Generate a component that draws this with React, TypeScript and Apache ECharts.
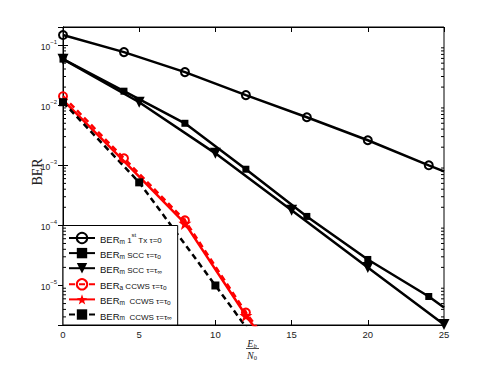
import React, { useEffect, useRef } from "react";
import * as echarts from "echarts";

// ---- data ----
const xMin = 0;
const xMax = 25;
const yMin = 2.2e-6;
const yMax = 0.2;

const txX = [0, 4, 8, 12, 16, 20, 24, 25];
const txY = [0.147, 0.0764, 0.0355, 0.0147, 0.0063, 0.00261, 0.001, 0.00079];
const txMark = [1, 1, 1, 1, 1, 1, 1, 0];

const sccOX = [0, 4, 8, 12, 16, 20, 24, 25];
const sccOY = [0.0584, 0.0171, 0.005, 0.00086, 0.000141, 0.0000271, 0.00000656, 0.0000043];
const sccOMark = [1, 1, 1, 1, 1, 1, 1, 0];

const sccInfX = [0, 5, 10, 15, 20, 25];
const sccInfY = [0.0584, 0.0112, 0.00158, 0.000178, 0.00002, 0.00000224];
const sccInfMark = [1, 1, 1, 1, 1, 1];

const ccwsAX = [0, 4, 8, 12, 16];
const ccwsAY = [0.0141, 0.00131, 0.000121, 0.00000355, 0.00000015];
const ccwsAMark = [1, 1, 1, 1, 0];

const ccwsMX = [0, 4, 8, 12, 16];
const ccwsMY = [0.0121, 0.00117, 0.000108, 0.00000316, 0.000000135];
const ccwsMMark = [0, 0, 1, 1, 0];

const ccwsInfX = [0, 5, 10, 15];
const ccwsInfY = [0.0112, 0.00052, 0.00001, 0.00000019];
const ccwsInfMark = [1, 1, 1, 0];

const xTickInterval = 5;
const minorMultipliers = [2, 3, 4, 5, 6, 7, 8, 9];
const decades = [-6, -5, -4, -3, -2, -1];

const names = [
  "BERm 1st Tx τ=0",
  "BERm SCC τ=τo",
  "BERm SCC τ=τ∞",
  "BERa CCWS τ=τo",
  "BERm CCWS τ=τo",
  "BERm CCWS τ=τ∞",
];
const richNames: Record<string, string> = {
  [names[0]]: "{n|BER}{s|m}{t| 1}{p|st}{t| Tx τ=0}",
  [names[1]]: "{n|BER}{s|m}{t| SCC τ=τ}{s|o}",
  [names[2]]: "{n|BER}{s|m}{t| SCC τ=τ}{s|∞}",
  [names[3]]: "{n|BER}{s|a}{t| CCWS τ=τ}{s|o}",
  [names[4]]: "{n|BER}{s|m}{t|  CCWS τ=τ}{s|o}",
  [names[5]]: "{n|BER}{s|m}{t|  CCWS τ=τ}{s|∞}",
};

const STAR =
  "path://M0,-10 L2.35,-3.24 L9.51,-3.09 L3.8,1.24 L5.88,8.09 L0,4 L-5.88,8.09 L-3.8,1.24 L-9.51,-3.09 L-2.35,-3.24 Z";

function pts(xs: number[], ys: number[], mark: number[]) {
  return xs.map((x, i) =>
    mark[i] ? { value: [x, ys[i]] } : { value: [x, ys[i]], symbol: "none" }
  );
}

const SANS = "Liberation Sans";
const SERIF = "Liberation Serif";

export default function App() {
  const ref = useRef<HTMLDivElement>(null);
  useEffect(() => {
    if (!ref.current) return;
    const chart = echarts.init(ref.current, null, { renderer: "svg" });

    const minorData: number[][] = [];
    decades.forEach((d) =>
      minorMultipliers.forEach((k) => {
        const v = k * Math.pow(10, d);
        if (v > yMin && v < yMax) minorData.push([xMin, v]);
      })
    );

    const gridLeft = 63,
      gridRight = 47,
      gridTop = 27,
      gridBottom = 41;

    const yLabelFmt = (v: number) => {
      const e = Math.log10(v);
      const r = Math.round(e);
      if (Math.abs(e - r) > 1e-6) return "";
      return `{b|10}{e|${r < 0 ? "−" + -r : r}}`;
    };

    const baseLine = (color: string, dashed: boolean) => ({
      color,
      width: 2.5,
      type: dashed ? [6, 4] : "solid",
    });

    const option: any = {
      animation: false,
      backgroundColor: "#fff",
      grid: {
        left: gridLeft,
        right: gridRight,
        top: gridTop,
        bottom: gridBottom,
        show: true,
        borderColor: "#000",
        borderWidth: 1,
        backgroundColor: "#fff",
      },
      xAxis: [
        {
          type: "value",
          min: xMin,
          max: xMax,
          interval: xTickInterval,
          position: "bottom",
          axisLine: { show: true, lineStyle: { color: "#000", width: 1 } },
          axisTick: { inside: true, length: 5, lineStyle: { color: "#000" } },
          axisLabel: { color: "#222", fontFamily: SANS, fontSize: 9.5, margin: 4 },
          splitLine: { show: false },
        },
        {
          type: "value",
          min: xMin,
          max: xMax,
          interval: xTickInterval,
          position: "top",
          axisLine: { show: true, lineStyle: { color: "#000", width: 1 } },
          axisTick: { inside: true, length: 5, lineStyle: { color: "#000" } },
          axisLabel: { show: false },
          splitLine: { show: false },
        },
      ],
      yAxis: [
        {
          type: "log",
          logBase: 10,
          min: yMin,
          max: yMax,
          position: "left",
          axisLine: { show: true, lineStyle: { color: "#000", width: 1 } },
          axisTick: { inside: true, length: 5, lineStyle: { color: "#000" } },
          axisLabel: {
            formatter: yLabelFmt,
            showMinLabel: false,
            showMaxLabel: false,
            margin: 6,
            rich: {
              b: { fontFamily: SANS, fontSize: 8.5, color: "#222", verticalAlign: "bottom", lineHeight: 12 },
              e: { fontFamily: SANS, fontSize: 6, color: "#222", verticalAlign: "top", lineHeight: 7 },
            },
          },
          splitLine: { show: false },
        },
        {
          type: "log",
          logBase: 10,
          min: yMin,
          max: yMax,
          position: "right",
          axisLine: { show: true, lineStyle: { color: "#000", width: 1 } },
          axisTick: { inside: true, length: 5, lineStyle: { color: "#000" } },
          axisLabel: { show: false },
          splitLine: { show: false },
        },
      ],
      legend: {
        data: names,
        orient: "vertical",
        left: gridLeft,
        bottom: gridBottom,
        backgroundColor: "#fff",
        borderColor: "#000",
        borderWidth: 1,
        borderRadius: 0,
        padding: [6, 6, 4, 5],
        itemGap: 3.4,
        itemWidth: 26,
        itemHeight: 13,
        formatter: (n: string) => richNames[n],
        textStyle: {
          color: "#111",
          rich: {
            n: { fontFamily: SANS, fontSize: 9.5, color: "#111", verticalAlign: "bottom", lineHeight: 13 },
            t: { fontFamily: SANS, fontSize: 8, color: "#111", verticalAlign: "bottom", lineHeight: 12 },
            s: { fontFamily: SANS, fontSize: 6.5, color: "#111", verticalAlign: "bottom", lineHeight: 7 },
            p: { fontFamily: SANS, fontSize: 6, color: "#111", verticalAlign: "top", lineHeight: 7 },
          },
        },
      },
      graphic: [
        {
          type: "text",
          x: 37,
          y: 172,
          rotation: Math.PI / 2,
          style: {
            text: "BER",
            fontFamily: SERIF,
            fontSize: 14,
            fill: "#222",
            align: "center",
            verticalAlign: "middle",
          },
        },
        {
          type: "text",
          x: 252,
          y: 343,
          style: {
            text: "{i|E}{s|b}",
            align: "center",
            verticalAlign: "middle",
            rich: {
              i: { fontFamily: SERIF, fontStyle: "italic", fontSize: 10, fill: "#222", verticalAlign: "bottom", lineHeight: 11 },
              s: { fontFamily: SERIF, fontStyle: "italic", fontSize: 6.5, fill: "#222", verticalAlign: "bottom", lineHeight: 6 },
            },
          },
        },
        {
          type: "line",
          shape: { x1: 246, y1: 348.5, x2: 259, y2: 348.5 },
          style: { stroke: "#222", lineWidth: 0.8 },
        },
        {
          type: "text",
          x: 252,
          y: 355,
          style: {
            text: "{i|N}{s|0}",
            align: "center",
            verticalAlign: "middle",
            rich: {
              i: { fontFamily: SERIF, fontStyle: "italic", fontSize: 10, fill: "#222", verticalAlign: "bottom", lineHeight: 11 },
              s: { fontFamily: SERIF, fontSize: 6.5, fill: "#222", verticalAlign: "bottom", lineHeight: 6 },
            },
          },
        },
      ],
      series: [
        {
          name: names[0],
          type: "line",
          data: pts(txX, txY, txMark),
          lineStyle: baseLine("#000", false),
          symbol: "circle",
          symbolSize: 8,
          itemStyle: { color: "rgba(255,255,255,0)", borderColor: "#000", borderWidth: 2 },
        },
        {
          name: names[1],
          type: "line",
          data: pts(sccOX, sccOY, sccOMark),
          lineStyle: baseLine("#000", false),
          symbol: "rect",
          symbolSize: 7,
          itemStyle: { color: "#000" },
        },
        {
          name: names[2],
          type: "line",
          data: pts(sccInfX, sccInfY, sccInfMark),
          lineStyle: baseLine("#000", false),
          symbol: "triangle",
          symbolRotate: 180,
          symbolSize: 11,
          itemStyle: { color: "#000" },
        },
        {
          name: names[3],
          type: "line",
          data: pts(ccwsAX, ccwsAY, ccwsAMark),
          lineStyle: baseLine("#ff0000", true),
          symbol: "circle",
          symbolSize: 8,
          itemStyle: { color: "rgba(255,255,255,0)", borderColor: "#ff0000", borderWidth: 2 },
        },
        {
          name: names[4],
          type: "line",
          data: pts(ccwsMX, ccwsMY, ccwsMMark),
          lineStyle: baseLine("#ff0000", false),
          symbol: STAR,
          symbolSize: 13,
          itemStyle: { color: "#ff0000" },
        },
        {
          name: names[5],
          type: "line",
          data: pts(ccwsInfX, ccwsInfY, ccwsInfMark),
          lineStyle: baseLine("#000", true),
          symbol: "rect",
          symbolSize: 8,
          itemStyle: { color: "#000" },
        },
        {
          name: "minorTicks",
          type: "custom",
          xAxisIndex: 0,
          yAxisIndex: 0,
          data: minorData,
          encode: { x: 0, y: 1 },
          silent: true,
          z: 5,
          renderItem: (params: any, api: any) => {
            const v = api.value(1);
            const pL = api.coord([xMin, v]);
            const pR = api.coord([xMax, v]);
            return {
              type: "group",
              children: [
                {
                  type: "line",
                  shape: { x1: pL[0], y1: pL[1], x2: pL[0] + 3, y2: pL[1] },
                  style: { stroke: "#000", lineWidth: 1 },
                },
                {
                  type: "line",
                  shape: { x1: pR[0] - 3, y1: pR[1], x2: pR[0], y2: pR[1] },
                  style: { stroke: "#000", lineWidth: 1 },
                },
              ],
            };
          },
        },
      ],
    };

    chart.setOption(option);
    return () => chart.dispose();
  }, []);

  return <div ref={ref} style={{ width: 491, height: 366, position: "absolute", left: 0, top: 0 }} />;
}
